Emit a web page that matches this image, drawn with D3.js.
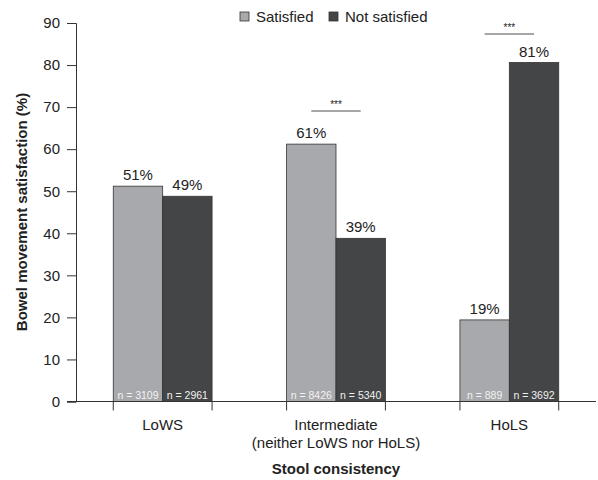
<!DOCTYPE html>
<html>
<head>
<meta charset="utf-8">
<script src="https://cdn.jsdelivr.net/npm/d3@7"></script>
<style>
  body { margin: 0; background: #fff; }
  svg { font-family: "Liberation Sans", Arial, sans-serif; }
</style>
</head>
<body>
<script>
// Chart data
const categories = ['LoWS', 'Intermediate', 'HoLS'];
const categoryLines = [['LoWS'], ['Intermediate', '(neither LoWS nor HoLS)'], ['HoLS']];
const seriesNames = ['Satisfied', 'Not satisfied'];
const satisfied = [51.2, 61.2, 19.4];
const notSatisfied = [48.8, 38.8, 80.6];
const satisfiedLabels = ['51%', '61%', '19%'];
const notSatisfiedLabels = ['49%', '39%', '81%'];
const satisfiedN = ['n = 3109', 'n = 8426', 'n = 889'];
const notSatisfiedN = ['n = 2961', 'n = 5340', 'n = 3692'];
// significance bracket level (in %) per category, null = none
const sigLevels = [null, 69.1, 87.4];
const yTicks = [0, 10, 20, 30, 40, 50, 60, 70, 80, 90];

const colors = ['#a8a9ac', '#444547'];
const textColor = '#222';

const width = 598, height = 480;
const svg = d3.select('body').append('svg')
  .attr('width', width)
  .attr('height', height);

const x = d3.scaleBand()
  .domain(categories)
  .range([76, 596])
  .paddingInner(0.43)
  .paddingOuter(0.215);

const xs = d3.scaleBand()
  .domain(seriesNames)
  .range([0, x.bandwidth()]);

const y = d3.scaleLinear()
  .domain([0, 90])
  .range([401.5, 23]);

// Bars
const rows = categories.map((c, i) => ({
  cat: c,
  vals: [
    { s: seriesNames[0], v: satisfied[i], lab: satisfiedLabels[i], n: satisfiedN[i] },
    { s: seriesNames[1], v: notSatisfied[i], lab: notSatisfiedLabels[i], n: notSatisfiedN[i] }
  ]
}));

const groups = svg.append('g').selectAll('g')
  .data(rows)
  .join('g')
  .attr('transform', d => `translate(${x(d.cat)},0)`);

groups.selectAll('rect')
  .data(d => d.vals)
  .join('rect')
  .attr('x', d => xs(d.s))
  .attr('y', d => y(d.v))
  .attr('width', xs.bandwidth())
  .attr('height', d => y(0) - y(d.v))
  .attr('fill', (d, i) => colors[i])
  .attr('stroke', '#333')
  .attr('stroke-width', 0.8);

groups.selectAll('text.val')
  .data(d => d.vals)
  .join('text')
  .attr('class', 'val')
  .attr('x', d => xs(d.s) + xs.bandwidth() / 2)
  .attr('y', d => y(d.v) - 6)
  .attr('text-anchor', 'middle')
  .attr('font-size', 15)
  .attr('fill', textColor)
  .text(d => d.lab);

groups.selectAll('text.n')
  .data(d => d.vals)
  .join('text')
  .attr('class', 'n')
  .attr('x', d => xs(d.s) + xs.bandwidth() / 2)
  .attr('y', y(0) - 3)
  .attr('text-anchor', 'middle')
  .attr('font-size', 10.5)
  .attr('fill', '#f2f2f2')
  .text(d => d.n);

// Significance brackets
const sig = svg.append('g');
categories.forEach((c, i) => {
  if (sigLevels[i] == null) return;
  const x1 = x(c) + xs(seriesNames[0]) + xs.bandwidth() / 2;
  const x2 = x(c) + xs(seriesNames[1]) + xs.bandwidth() / 2;
  sig.append('line')
    .attr('x1', x1).attr('x2', x2)
    .attr('y1', y(sigLevels[i])).attr('y2', y(sigLevels[i]))
    .attr('stroke', '#888')
    .attr('stroke-width', 1.5);
  sig.append('text')
    .attr('x', (x1 + x2) / 2)
    .attr('y', y(sigLevels[i]) - 3)
    .attr('text-anchor', 'middle')
    .attr('font-size', 10)
    .attr('fill', textColor)
    .text('***');
});

// Y axis
const yAxis = svg.append('g')
  .attr('transform', 'translate(76,0)')
  .call(d3.axisLeft(y).tickValues(yTicks).tickSize(9).tickPadding(7));
yAxis.selectAll('text').attr('font-size', 15).attr('fill', textColor)
  .attr('font-family', '"Liberation Sans", Arial, sans-serif');
yAxis.selectAll('line').attr('stroke', '#333');
yAxis.select('.domain').attr('stroke', '#333');

// X axis: baseline plus ticks at bar edges
svg.append('line')
  .attr('x1', 67).attr('x2', 596)
  .attr('y1', y(0)).attr('y2', y(0))
  .attr('stroke', '#333');

const edges = [];
categories.forEach(c => { edges.push(x(c)); edges.push(x(c) + x.bandwidth()); });
svg.append('g').selectAll('line')
  .data(edges)
  .join('line')
  .attr('x1', d => d).attr('x2', d => d)
  .attr('y1', y(0)).attr('y2', y(0) + 9)
  .attr('stroke', '#333');

// Category labels
const catLab = svg.append('g').selectAll('text')
  .data(categories)
  .join('text')
  .attr('x', d => x(d) + x.bandwidth() / 2)
  .attr('y', 430)
  .attr('text-anchor', 'middle')
  .attr('font-size', 15)
  .attr('fill', textColor);
catLab.each(function (d, i) {
  d3.select(this).selectAll('tspan')
    .data(categoryLines[i])
    .join('tspan')
    .attr('x', x(d) + x.bandwidth() / 2)
    .attr('dy', (t, j) => j === 0 ? 0 : 18)
    .text(t => t);
});

// Axis titles
svg.append('text')
  .attr('x', 336)
  .attr('y', 474)
  .attr('text-anchor', 'middle')
  .attr('font-size', 15)
  .attr('font-weight', 'bold')
  .attr('fill', textColor)
  .text('Stool consistency');

svg.append('text')
  .attr('transform', 'translate(27,212) rotate(-90)')
  .attr('text-anchor', 'middle')
  .attr('font-size', 15)
  .attr('font-weight', 'bold')
  .attr('fill', textColor)
  .text('Bowel movement satisfaction (%)');

// Legend
const legend = svg.append('g');
const legendX = [240, 329];
seriesNames.forEach((s, i) => {
  legend.append('rect')
    .attr('x', legendX[i]).attr('y', 12)
    .attr('width', 9).attr('height', 9)
    .attr('fill', colors[i])
    .attr('stroke', '#333')
    .attr('stroke-width', 0.8);
  legend.append('text')
    .attr('x', legendX[i] + 16).attr('y', 22)
    .attr('font-size', 15)
    .attr('fill', textColor)
    .text(s);
});
</script>
</body>
</html>
